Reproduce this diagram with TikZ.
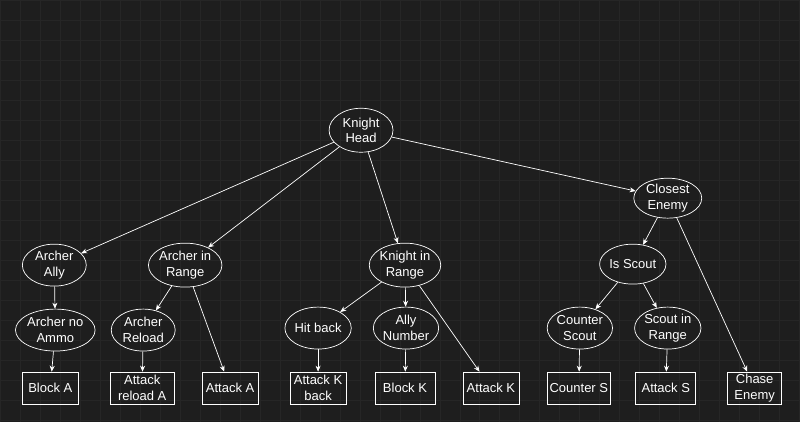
\documentclass[tikz,border=0pt]{standalone}
\usepackage{fontspec}
\setmainfont{Liberation Sans}
\usetikzlibrary{shapes.geometric, arrows.meta}
\definecolor{bgdark}{HTML}{1E1E1E}
\definecolor{gridline}{HTML}{262626}
\tikzset{
    cond/.style={ellipse, draw=white, text=white, align=center, inner sep=0pt,
        font=\fontsize{7.4}{8.8}\selectfont},
    act/.style={rectangle, draw=white, text=white, align=center, inner sep=0pt,
        minimum height=0.64cm, font=\fontsize{7.4}{8.8}\selectfont},
    edge/.style={draw=white, line width=0.4pt, -{Stealth[length=1.2mm,width=1mm]}}
}
\begin{document}
\begin{tikzpicture}[x=0.02cm, y=-0.02cm]
        \fill[bgdark] (0,0) rectangle (800,422);
        \draw[gridline, step=0.4cm] (0,0) grid (800,422);
        \useasboundingbox (0,0) rectangle (800,422);
        % decision nodes
        \node[cond, minimum width=1.28cm, minimum height=0.88cm] (head) at (361,130) {Knight\\Head};
        \node[cond, minimum width=1.36cm, minimum height=0.8cm] (closest) at (668,198) {Closest\\Enemy};
        \node[cond, minimum width=1.28cm, minimum height=0.84cm] (archally) at (54,265) {Archer\\Ally};
        \node[cond, minimum width=1.32cm, minimum height=0.88cm] (archrange) at (185,265) {Archer in\\Range};
        \node[cond, minimum width=1.32cm, minimum height=0.88cm] (knightrange) at (405,265) {Knight in\\Range};
        \node[cond, minimum width=1.28cm, minimum height=0.8cm] (isscout) at (633,264) {Is Scout};
        \node[cond, minimum width=1.28cm, minimum height=0.84cm] (noammo) at (55,330) {Archer no\\Ammo};
        \node[cond, minimum width=1.28cm, minimum height=0.84cm] (reload) at (143,330) {Archer\\Reload};
        \node[cond, minimum width=1.28cm, minimum height=0.84cm] (hitback) at (318,328) {Hit back};
        \node[cond, minimum width=1.28cm, minimum height=0.84cm] (allynum) at (406,328) {Ally\\Number};
        \node[cond, minimum width=1.28cm, minimum height=0.84cm] (counterscout) at (580,328) {Counter\\Scout};
        \node[cond, minimum width=1.28cm, minimum height=0.84cm] (scoutrange) at (668,328) {Scout in\\Range};
        % actions
        \node[act, minimum width=1.12cm] (blocka) at (50,388) {Block A};
        \node[act, minimum width=1.28cm] (atkreload) at (142,388) {Attack\\reload A};
        \node[act, minimum width=1.12cm] (atka) at (230,388) {Attack A};
        \node[act, minimum width=1.12cm] (atkkback) at (318,388) {Attack K\\back};
        \node[act, minimum width=1.2cm] (blockk) at (405,388) {Block K};
        \node[act, minimum width=1.12cm] (atkk) at (491,388) {Attack K};
        \node[act, minimum width=1.28cm] (counters) at (579,388) {Counter S};
        \node[act, minimum width=1.2cm] (atks) at (666,388) {Attack S};
        \node[act, minimum width=1.08cm] (chase) at (755,388) {Chase\\Enemy};
        % connectors
        \draw[edge] (head) -- (archally);
        \draw[edge] (head) -- (archrange);
        \draw[edge] (head) -- (knightrange);
        \draw[edge] (head) -- (closest);
        \draw[edge] (archally) -- (noammo);
        \draw[edge] (noammo) -- (blocka);
        \draw[edge] (archrange) -- (reload);
        \draw[edge] (reload) -- (atkreload);
        \draw[edge] (archrange) -- (atka);
        \draw[edge] (knightrange) -- (hitback);
        \draw[edge] (hitback) -- (atkkback);
        \draw[edge] (knightrange) -- (allynum);
        \draw[edge] (allynum) -- (blockk);
        \draw[edge] (knightrange) -- (atkk);
        \draw[edge] (closest) -- (isscout);
        \draw[edge] (closest) -- (chase);
        \draw[edge] (isscout) -- (counterscout);
        \draw[edge] (counterscout) -- (counters);
        \draw[edge] (isscout) -- (scoutrange);
        \draw[edge] (scoutrange) -- (atks);
\end{tikzpicture}
\end{document}
